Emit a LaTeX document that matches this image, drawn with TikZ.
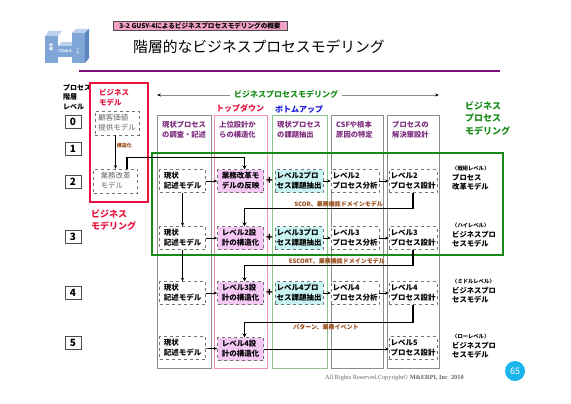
\documentclass[tikz,border=0pt]{standalone}
\usepackage{fontspec}
\setmainfont{Noto Sans CJK JP}
\newfontfamily\serifen{Liberation Serif}
\usetikzlibrary{arrows.meta}
\definecolor{hdrpink}{HTML}{F2A2C8}
\definecolor{ttlpurple}{HTML}{7A0F7A}
\definecolor{mdlgreen}{HTML}{178A17}
\definecolor{colpurple}{HTML}{7E2C7E}
\definecolor{boxpink}{HTML}{F6C8F6}
\definecolor{boxcyan}{HTML}{C8F4F4}
\definecolor{notebrown}{HTML}{9A4A18}
\definecolor{tdred}{HTML}{E8103C}
\definecolor{bublue}{HTML}{1A1AE0}
\definecolor{pgblue}{HTML}{1AB4EC}
\definecolor{logofront}{HTML}{7FA6D6}
\definecolor{logotop}{HTML}{BCD2EC}
\definecolor{logoside}{HTML}{5C86BE}
\tikzset{
  dbox/.style={draw=black!55, dashed, fill=white, minimum width=46pt, minimum height=23pt,
    inner sep=1.5pt, align=left, font=\fontsize{7.5}{10}\selectfont\bfseries},
  pkbox/.style={dbox, fill=boxpink},
  cybox/.style={dbox, fill=boxcyan},
  colhead/.style={anchor=north west, align=left, inner sep=0pt, text=colpurple,
    font=\fontsize{7.3}{10}\selectfont\bfseries},
  lvlbox/.style={draw=black!70, minimum width=16pt, minimum height=13pt, inner sep=0pt,
    font=\fontsize{10}{10}\selectfont\bfseries},
  conn/.style={line width=1.3pt, -{Stealth[length=4pt,width=4pt]}},
  arr/.style={line width=0.6pt, -{Stealth[length=3.5pt,width=3pt]}},
  note/.style={text=notebrown, inner sep=1pt, font=\fontsize{6}{7}\selectfont\bfseries},
  side/.style={anchor=north west, align=left, inner sep=0pt, font=\fontsize{7.3}{9.5}\selectfont\bfseries},
}
\begin{document}
\begin{tikzpicture}[x=1pt,y=-1pt]
\useasboundingbox (0,0) rectangle (571,404);
% logo
\fill[logotop] (45,36) -- (49,31) -- (62,31) -- (58,36) -- cycle;
\fill[logotop] (72,33) -- (76,29) -- (89,29) -- (85,33) -- cycle;
\fill[logoside] (85,33) -- (89,29) -- (89,58) -- (85,63) -- cycle;
\fill[logotop] (58,46) -- (62,42) -- (72,42) -- (72,46) -- cycle;
\fill[logofront] (45,36) rectangle (58,63);
\fill[logofront] (58,46) rectangle (72,57);
\fill[logofront] (72,33) rectangle (85,63);
\node[text=white, align=center, inner sep=0pt, font=\fontsize{3.5}{4.5}\selectfont\bfseries] (lg1) at (51,47) {組\\織};
\node[text=white, inner sep=0pt, font=\fontsize{3.5}{4}\selectfont\bfseries] (lg2) at (65,51) {プロセス};
\node[text=white, align=center, inner sep=0pt, font=\fontsize{3.5}{4.5}\selectfont\bfseries] (lg3) at (78,51) {I\\T};
% header and title
\node[draw=black!70, fill=hdrpink, minimum width=174pt, minimum height=9pt, inner sep=0pt,
  font=\fontsize{6.6}{7}\selectfont\bfseries] (hdr) at (200,25.5) {3-2 GUSY-4によるビジネスプロセスモデリングの概要};
\node[anchor=west, inner sep=0pt, font=\fontsize{14.8}{16}\selectfont] (ttl) at (133,47) {階層的なビジネスプロセスモデリング};
\draw[ttlpurple, line width=2pt] (79,71) -- (500,71);
% levels
\node[anchor=north west, align=left, inner sep=0pt, font=\fontsize{7}{9.5}\selectfont\bfseries] (plv) at (63,84) {プロセス\\階層\\レベル};
\foreach \n/\y in {0/122,1/149,2/182,3/237,4/293,5/343}
  \node[lvlbox] (lv\n) at (73,\y) {\n};
% business model
\draw[tdred, line width=1.8pt] (90,83) rectangle (148,202);
\node[anchor=north west, align=left, inner sep=0pt, text=tdred, font=\fontsize{7.5}{10}\selectfont\bfseries] (bmt) at (99,89) {ビジネス\\モデル};
\node[dbox, text=black!60, font=\fontsize{7.5}{10}\selectfont, minimum width=44pt, minimum height=24pt] (cust) at (117,123) {顧客価値\\提供モデル};
\node[dbox, text=black!60, font=\fontsize{7.5}{10}\selectfont, minimum width=44pt, minimum height=24pt] (rm) at (115.5,181) {業務改革\\モデル};
\draw[arr] (cust.south -| rm.north) -- (rm.north) node[pos=0.3, right, note, font=\fontsize{5}{6}\selectfont\bfseries] (kz) {構造化};
\node[anchor=north west, align=left, inner sep=0pt, text=tdred, font=\fontsize{9}{12}\selectfont\bfseries] (bml) at (91,209) {ビジネス\\モデリング};
% top arrow
\node[text=mdlgreen, font=\fontsize{8}{8}\selectfont\bfseries] (bpm) at (286,94) {ビジネスプロセスモデリング};
\coordinate (tl) at (157,95);
\coordinate (tr) at (439,95);
\draw[black!45, line width=0.8pt, -{Stealth[black,length=4pt,width=3pt]}] (bpm.west |- tl) -- (tl);
\draw[black!45, line width=0.8pt, -{Stealth[black,length=4pt,width=3pt]}] (bpm.east |- tr) -- (tr);
\node[text=tdred, font=\fontsize{8}{8}\selectfont\bfseries] (td) at (240,108) {トップダウン};
\node[text=bublue, font=\fontsize{8}{8}\selectfont\bfseries] (bu) at (299,109) {ボトムアップ};
% columns
\foreach \cx/\cw/\cc/\tx [count=\i] in {157/54/black!45/{現状プロセス\\の調査・記述}, 214/53/tdred!45/{上位設計か\\らの構造化},
    272/55/mdlgreen!50/{現状プロセス\\の課題抽出}, 331/52/black!45/{CSFや根本\\原因の特定}, 387/52/black!45/{プロセスの\\解決策設計}}{
  \draw[draw=\cc, line width=0.8pt] (\cx,115) rectangle ++(\cw,253);
  \node[colhead] (col\i) at (\cx+5,121) {\tx};
}
\draw[mdlgreen, line width=2.5pt] (152,153) rectangle (503,255);
\node[anchor=north west, align=left, inner sep=0pt, text=mdlgreen, font=\fontsize{9}{12.5}\selectfont\bfseries] (bpml) at (465,101) {ビジネス\\プロセス\\モデリング};
% rows
\foreach \r/\y/\pk in {2/181/{業務改革モ\\デルの反映}, 3/238/{レベル2設\\計の構造化}, 4/293/{レベル3設\\計の構造化}}{
  \node[dbox] (g\r) at (182.5,\y) {現状\\記述モデル};
  \node[pkbox] (p\r) at (240.5,\y) {\pk};
  \node[cybox] (c\r) at (299,\y) {レベル\r{}プロ\\セス課題抽出};
  \node[dbox] (a\r) at (355,\y) {レベル\r\\プロセス分析};
  \node[dbox] (d\r) at (413,\y) {レベル\r\\プロセス設計};
  \node[inner sep=0pt, font=\fontsize{11}{11}\selectfont\bfseries] (pl\r) at (269.5,\y) {+};
  \draw[arr] (g\r) -- (p\r);
  \draw[arr] (c\r) -- (a\r);
  \draw[arr] (a\r) -- (d\r);
}
\node[dbox] (g5) at (182.5,348) {現状\\記述モデル};
\node[pkbox] (p5) at (240.5,349) {レベル4設\\計の構造化};
\node[dbox] (d5) at (413,348) {レベル5\\プロセス設計};
\draw[arr] (g5) -- (p5);
\draw[arr] (p5.east) -- (p5.east -| d5.west);
\draw[arr] (g2) -- (g3);
\draw[arr] (g3) -- (g4);
% level to level
\draw[conn] ([xshift=11.5pt]rm.north) -- ++(0,-11) -| ([xshift=4pt]p2.north);
\draw[conn] (d2.south) -- ++(0,16) -| ([xshift=4pt]p3.north);
\draw[conn] (d3.south) -- ++(0,16) -| ([xshift=4pt]p4.north);
\draw[conn] (d4.south) -- ++(0,18) -| ([xshift=4pt]p5.north);
\node[note, anchor=south east] (n2) at (384,208) {SCOR、業務機能ドメインモデル};
\node[note, anchor=south east] (n3) at (386,265) {ESCORT、業務機能ドメインモデル};
\node[note, anchor=north] (n4) at (326,323) {パターン、業務イベント};
% right labels
\foreach \r/\y/\lv/\tx in {2/166/戦術レベル/{プロセス\\改革モデル}, 3/223/ハイレベル/{ビジネスプロ\\セスモデル},
    4/279/ミドルレベル/{ビジネスプロ\\セスモデル}, 5/334/ローレベル/{ビジネスプロ\\セスモデル}}
  \node[side] (s\r) at (452,\y) {{\fontsize{5.3}{7}\selectfont 〈\lv〉}\\\tx};
% footer
\node[anchor=west, inner sep=0pt, text=black!60, font=\serifen\fontsize{6.3}{7}\selectfont] (cpy) at (325,378) {All Rights Reserved,Copyright© \textbf{M\&ERPI, Inc\ \ 2010}};
\node[circle, fill=pgblue, text=white, minimum size=20pt, inner sep=0pt, font=\fontsize{9}{9}\selectfont] (pg) at (515,371) {65};
\end{tikzpicture}
\end{document}
